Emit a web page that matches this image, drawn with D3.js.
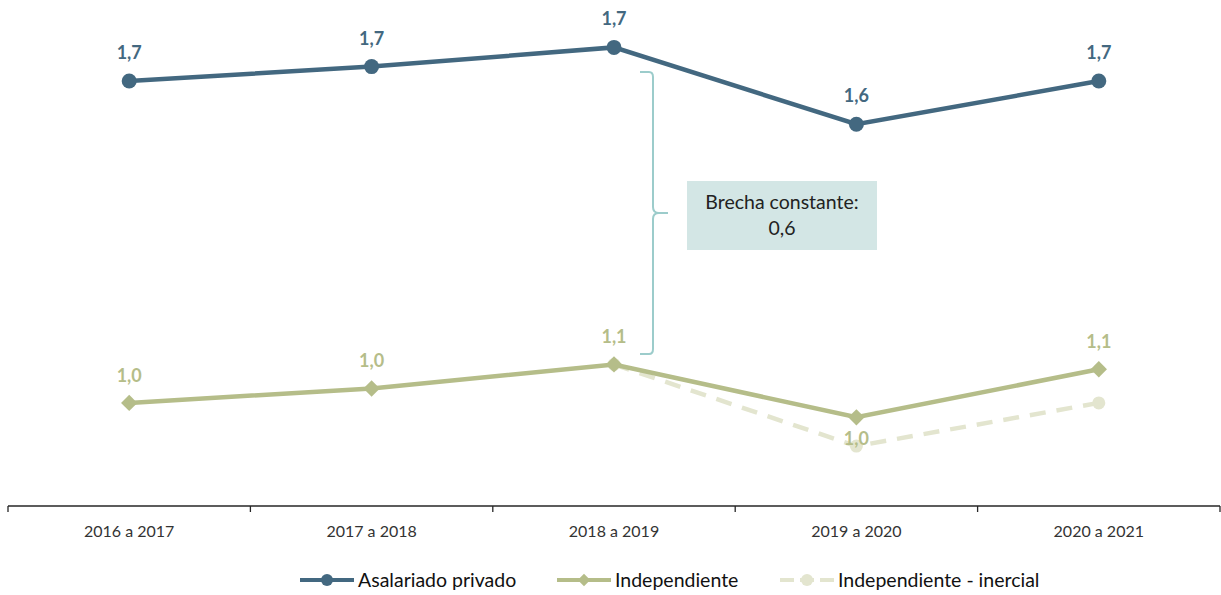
<!DOCTYPE html>
<html>
<head>
<meta charset="utf-8">
<script src="https://cdn.jsdelivr.net/npm/d3@7"></script>
<style>
  body { margin: 0; background: #fff; }
  svg { font-family: Lato, "Open Sans", sans-serif; }
</style>
</head>
<body>
<svg id="chart" width="1221" height="595"></svg>
<script>
// data
const periods = ['2016 a 2017', '2017 a 2018', '2018 a 2019', '2019 a 2020', '2020 a 2021'];
const asalariado = [1.67, 1.70, 1.74, 1.58, 1.67];
const independiente = [1.00, 1.03, 1.08, 0.97, 1.07];
const inercial = [null, null, 1.08, 0.91, 1.00];
const gapLabel = ['Brecha constante:', '0,6'];

const svg = d3.select('#chart');

const x = d3.scaleBand().domain(periods).range([8, 1220]);
const cx = d => x(d) + x.bandwidth() / 2;
// approx 480 px per unit
const y = d3.scaleLinear().domain([0.7, 1.745]).range([547, 45]);

const fmt = v => d3.format('.1f')(v).replace('.', ',');

// axis
const axisG = svg.append('g').attr('transform', 'translate(0,506)');
axisG.append('line').attr('x1', 8).attr('x2', 1220).attr('stroke', '#262626').attr('stroke-width', 1.3);
const edges = periods.map(p => x(p)).concat([x(periods[periods.length - 1]) + x.bandwidth()]);
axisG.selectAll('.tk').data(edges).join('line')
  .attr('x1', d => d).attr('x2', d => d).attr('y1', 0).attr('y2', 6)
  .attr('stroke', '#262626').attr('stroke-width', 1.3);
axisG.selectAll('.lbl').data(periods).join('text')
  .attr('x', d => cx(d)).attr('y', 31).attr('text-anchor', 'middle')
  .attr('font-size', 16).attr('fill', '#333').text(d => d);

const line = d3.line().defined(d => d.v != null).x(d => cx(d.p)).y(d => y(d.v));
const pts = arr => arr.map((v, i) => ({ p: periods[i], v }));

// brace
const bx = 640, by0 = 72, by1 = 354, bm = 213;
svg.append('path')
  .attr('d', `M${bx},${by0} H${bx + 9} Q${bx + 13},${by0} ${bx + 13},${by0 + 5} V${bm - 6} Q${bx + 13},${bm} ${bx + 19},${bm} H${bx + 28}
              M${bx + 19},${bm} Q${bx + 13},${bm} ${bx + 13},${bm + 6} V${by1 - 5} Q${bx + 13},${by1} ${bx + 9},${by1} H${bx}`)
  .attr('fill', 'none').attr('stroke', '#9ccccb').attr('stroke-width', 2);

svg.append('rect').attr('x', 687).attr('y', 181).attr('width', 190).attr('height', 69).attr('fill', '#d3e6e5');
svg.selectAll('.gap').data(gapLabel).join('text')
  .attr('x', 782).attr('y', (d, i) => 209 + i * 26).attr('text-anchor', 'middle')
  .attr('font-size', 19.5).attr('fill', '#222').text(d => d);

// inercial (dashed)
const cInr = '#e3e5cf';
svg.append('path').datum(pts(inercial)).attr('d', line)
  .attr('fill', 'none').attr('stroke', cInr).attr('stroke-width', 4.5).attr('stroke-dasharray', '16,11');
svg.selectAll('.inr').data(pts(inercial).filter(d => d.v != null)).join('circle')
  .attr('cx', d => cx(d.p)).attr('cy', d => y(d.v)).attr('r', 6.5).attr('fill', cInr);

// independiente
const cInd = '#b5bd89';
svg.append('path').datum(pts(independiente)).attr('d', line)
  .attr('fill', 'none').attr('stroke', cInd).attr('stroke-width', 4.5);
svg.selectAll('.ind').data(pts(independiente)).join('path')
  .attr('transform', d => `translate(${cx(d.p)},${y(d.v)})`)
  .attr('d', d3.symbol(d3.symbolDiamond2, 170)).attr('fill', cInd);
svg.selectAll('.indl').data(pts(independiente)).join('text')
  .attr('x', d => cx(d.p)).attr('y', (d, i) => i === 3 ? y(d.v) + 28 : y(d.v) - 21)
  .attr('text-anchor', 'middle').attr('font-size', 18).attr('font-weight', 'bold')
  .attr('fill', cInd).text(d => fmt(d.v));

// asalariado
const cAsa = '#436880';
svg.append('path').datum(pts(asalariado)).attr('d', line)
  .attr('fill', 'none').attr('stroke', cAsa).attr('stroke-width', 4.5);
svg.selectAll('.asa').data(pts(asalariado)).join('circle')
  .attr('cx', d => cx(d.p)).attr('cy', d => y(d.v)).attr('r', 7.5).attr('fill', cAsa);
svg.selectAll('.asal').data(pts(asalariado)).join('text')
  .attr('x', d => cx(d.p)).attr('y', d => y(d.v) - 22)
  .attr('text-anchor', 'middle').attr('font-size', 18).attr('font-weight', 'bold')
  .attr('fill', cAsa).text(d => fmt(d.v));

// legend
const legend = [
  { name: 'Asalariado privado', color: cAsa, x: 300, mark: 'circle', dash: null },
  { name: 'Independiente', color: cInd, x: 557, mark: 'diamond', dash: null },
  { name: 'Independiente - inercial', color: cInr, x: 780, mark: 'circle', dash: '14,6' }
];
const lg = svg.append('g').attr('transform', 'translate(0,580)');
legend.forEach(l => {
  const g = lg.append('g').attr('transform', `translate(${l.x},0)`);
  g.append('line').attr('x1', 0).attr('x2', 54).attr('stroke', l.color).attr('stroke-width', 4)
    .attr('stroke-dasharray', l.dash);
  if (l.mark === 'circle') g.append('circle').attr('cx', 27).attr('r', 6).attr('fill', l.color);
  else g.append('path').attr('transform', 'translate(27,0)').attr('d', d3.symbol(d3.symbolDiamond2, 100)).attr('fill', l.color);
  g.append('text').attr('x', 58).attr('y', 7).attr('font-size', 19.5).attr('fill', '#111').text(l.name);
});
</script>
</body>
</html>
